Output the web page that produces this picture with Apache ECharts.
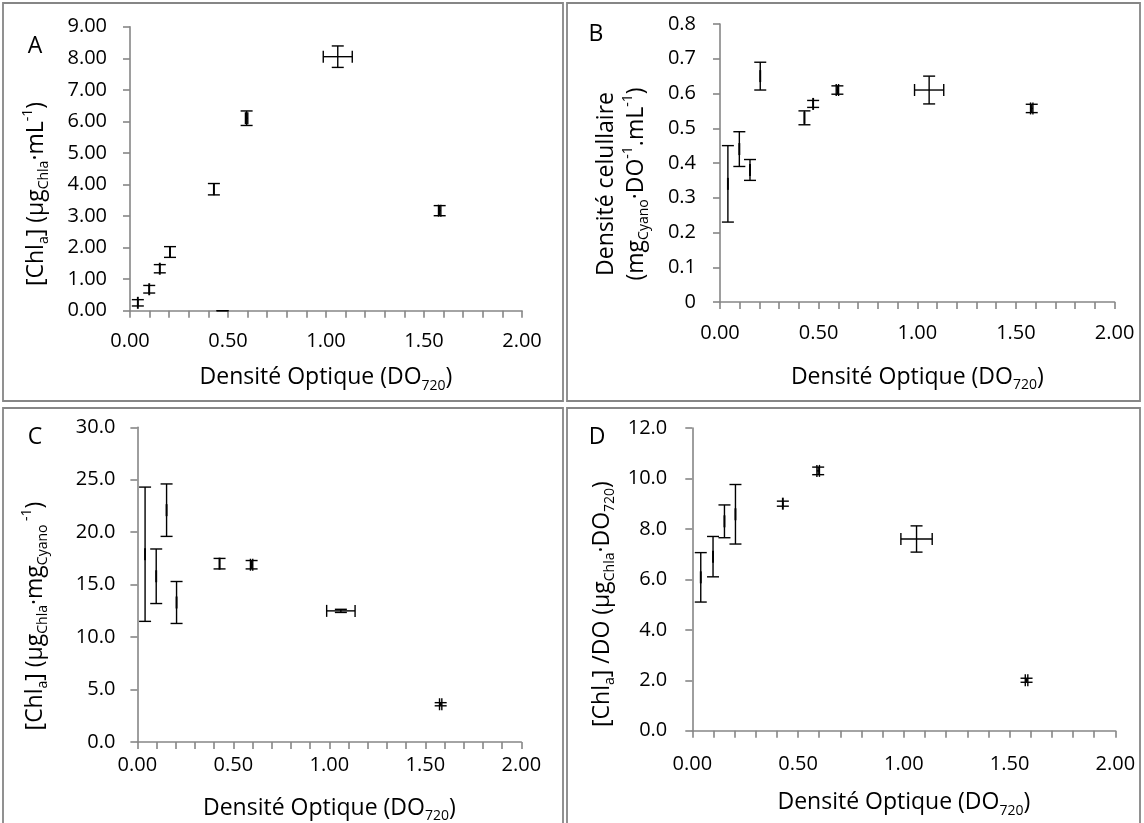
<!DOCTYPE html>
<html>
<head>
<meta charset="utf-8">
<script src="https://cdn.jsdelivr.net/npm/echarts@6/dist/echarts.min.js"></script>
<style>
  html, body { margin: 0; padding: 0; background: #fff; }
  #main { width: 1144px; height: 823px; }
</style>
</head>
<body>
<div id="main"></div>
<script>
// densité optique (x) et erreurs
var od = [0.04, 0.098, 0.152, 0.204, 0.428, 0.472, 0.595, 1.06, 1.58];
var odErr = [0, 0, 0, 0, 0, 0, 0.006, 0.074, 0.006];

// A : [Chla]
var chlA = [0.25, 0.68, 1.33, 1.86, 3.85, 0, 6.10, 8.05, 3.17];
var chlAErr = [0.10, 0.12, 0.13, 0.17, 0.18, 0, 0.23, 0.34, 0.16];
// B : densité cellulaire
var densB = [0.34, 0.44, 0.38, 0.65, 0.53, 0.57, 0.61, 0.61, 0.557];
var densBErr = [0.11, 0.05, 0.03, 0.04, 0.02, 0.01, 0.012, 0.04, 0.012];
// C : Chla / mg cyano
var ratioC = [17.9, 15.8, 22.1, 13.3, 17.0, null, 16.9, 12.5, 3.6];
var ratioCErr = [6.4, 2.6, 2.5, 2.0, 0.5, null, 0.4, 0.15, 0.15];
// D : Chla / DO
var ratioD = [6.08, 6.9, 8.3, 8.58, 9.0, null, 10.3, 7.6, 2.0];
var ratioDErr = [0.98, 0.8, 0.65, 1.18, 0.1, null, 0.15, 0.52, 0.08];

var xTicks = [0, 2, 0.5];

var FONT = 'Open Sans';
var GREY = '#868686';
var CAP = 6;

function richSet(colorKey) {
  var m = { fontFamily: FONT, fontSize: 23, lineHeight: 30 };
  var s = { fontFamily: FONT, fontSize: 14, lineHeight: 18, verticalAlign: 'bottom' };
  var p = { fontFamily: FONT, fontSize: 14, lineHeight: 18, verticalAlign: 'top' };
  m[colorKey] = s[colorKey] = p[colorKey] = '#000';
  return { m: m, s: s, p: p };
}

function renderBars(params, api) {
  var x = api.value(0), y = api.value(1), ye = api.value(2), xe = api.value(3);
  var top = api.coord([x, y + ye]), bot = api.coord([x, y - ye]);
  function seg(x1, y1, x2, y2, w) {
    return { type: 'line', shape: { x1: x1, y1: y1, x2: x2, y2: y2 },
      style: { stroke: '#000', lineWidth: w || 1.4 } };
  }
  var kids = [
    seg(top[0], top[1], bot[0], bot[1]),
    seg(top[0] - CAP, top[1], top[0] + CAP, top[1]),
    seg(bot[0] - CAP, bot[1], bot[0] + CAP, bot[1])
  ];
  // barres horizontales (erreur sur la DO) ; valeur nulle = point sans mesure
  if (y !== 0) {
    var l = api.coord([x - xe, y]), r = api.coord([x + xe, y]);
    if (xe > 0) {
      kids.push(seg(l[0], l[1], r[0], r[1]));
      kids.push(seg(l[0], l[1] - CAP, l[0], l[1] + CAP));
      kids.push(seg(r[0], r[1] - CAP, r[0], r[1] + CAP));
    } else {
      kids.push(seg(l[0], l[1] - CAP, l[0], l[1] + CAP, 1.9));
    }
  }
  return { type: 'group', children: kids };
}

var panels = [
  { grid: { left: 130, top: 26.7, width: 392, height: 284 }, max: 9, step: 1,
    fmt: function (v) { return v.toFixed(2); }, ys: chlA, es: chlAErr, xm: 21, ym: 23, gap: 52 },
  { grid: { left: 720, top: 24, width: 394.6, height: 278 }, max: 0.8, step: 0.1,
    fmt: function (v) { return String(+v.toFixed(1)); }, ys: densB, es: densBErr, xm: 21, ym: 24, gap: 60 },
  { grid: { left: 137.4, top: 427.3, width: 383.9, height: 314.7 }, max: 30, step: 5,
    fmt: function (v) { return v.toFixed(1); }, ys: ratioC, es: ratioCErr, xm: 13, ym: 22, gap: 51 },
  { grid: { left: 692.3, top: 428, width: 423.1, height: 302.7 }, max: 12, step: 2,
    fmt: function (v) { return v.toFixed(1); }, ys: ratioD, es: ratioDErr, xm: 24, ym: 25, gap: 57 }
];

var lineSt = { color: GREY, width: 1.6 };
var labelRich = richSet('color');
var gfxRich = richSet('fill');

var grids = [], xAxes = [], yAxes = [], series = [];
panels.forEach(function (p, i) {
  grids.push(Object.assign({ outerBoundsMode: 'none', containLabel: false }, p.grid));
  xAxes.push({
    type: 'value', gridIndex: i, min: xTicks[0], max: xTicks[1], interval: xTicks[2],
    axisLine: { show: true, lineStyle: lineSt },
    axisTick: { show: true, length: 7, lineStyle: lineSt },
    minorTick: { show: true, splitNumber: 5, length: 7, lineStyle: lineSt },
    splitLine: { show: false }, minorSplitLine: { show: false },
    axisLabel: { color: '#000', fontFamily: FONT, fontSize: 20, margin: p.xm,
      formatter: function (v) { return v.toFixed(2); } },
    name: '{m|Densité Optique (DO}{s|720}{m|)}',
    nameLocation: 'middle', nameGap: p.gap,
    nameTextStyle: { rich: labelRich }
  });
  yAxes.push({
    type: 'value', gridIndex: i, min: 0, max: p.max, interval: p.step,
    axisLine: { show: true, lineStyle: lineSt },
    axisTick: { show: true, length: 7, lineStyle: lineSt },
    splitLine: { show: false },
    axisLabel: { color: '#000', fontFamily: FONT, fontSize: 20, margin: p.ym, formatter: p.fmt }
  });
  var data = [];
  od.forEach(function (x, k) {
    if (p.ys[k] != null) data.push([x, p.ys[k], p.es[k], odErr[k]]);
  });
  series.push({
    type: 'custom', xAxisIndex: i, yAxisIndex: i, renderItem: renderBars,
    encode: { x: 0, y: 1 }, data: data, silent: true
  });
});

// titres des axes y et lettres des panneaux
var yTitles = [
  { x: 36, y: 194, text: '{m|[Chl}{s|a}{m|] (µg}{s|Chla}{m|·mL}{p|-1}{m|)}' },
  { x: 621, y: 184, text: '{m|Densité celullaire}\n{m|(mg}{s|Cyano}{m|·DO}{p|-1}{m|.mL}{p|-1}{m|)}' },
  { x: 35, y: 616, text: '{m|[Chl}{s|a}{m|] (µg}{s|Chla}{m|·mg}{s|Cyano}{p| -1}{m|)}' },
  { x: 602, y: 604, text: '{m|[Chl}{s|a}{m|] /DO (µg}{s|Chla}{m|·DO}{s|720}{m|)}' }
];
var letters = [['A', 35, 46], ['B', 596, 34], ['C', 35, 437], ['D', 597, 437]];
var boxes = [[3, 3, 560, 398], [567, 3, 573, 398], [3, 408, 560, 420], [567, 408, 573, 420]];

var graphics = [];
boxes.forEach(function (b) {
  graphics.push({ type: 'rect', shape: { x: b[0], y: b[1], width: b[2], height: b[3] },
    style: { fill: 'none', stroke: GREY, lineWidth: 1.8 }, silent: true });
});
yTitles.forEach(function (t) {
  graphics.push({ type: 'text', x: t.x, y: t.y, rotation: Math.PI / 2, silent: true,
    style: { legacy: false, text: t.text, rich: gfxRich, fill: '#000',
      font: '23px "' + FONT + '"', align: 'center', verticalAlign: 'middle' } });
});
letters.forEach(function (l) {
  graphics.push({ type: 'text', x: l[1], y: l[2], silent: true,
    style: { legacy: false, text: l[0], fill: '#000', font: '23px "' + FONT + '"',
      align: 'center', verticalAlign: 'middle' } });
});

var myChart = echarts.init(document.getElementById('main'));
myChart.setOption({
  animation: false,
  backgroundColor: '#fff',
  grid: grids,
  xAxis: xAxes,
  yAxis: yAxes,
  series: series,
  graphic: graphics
});
</script>
</body>
</html>
